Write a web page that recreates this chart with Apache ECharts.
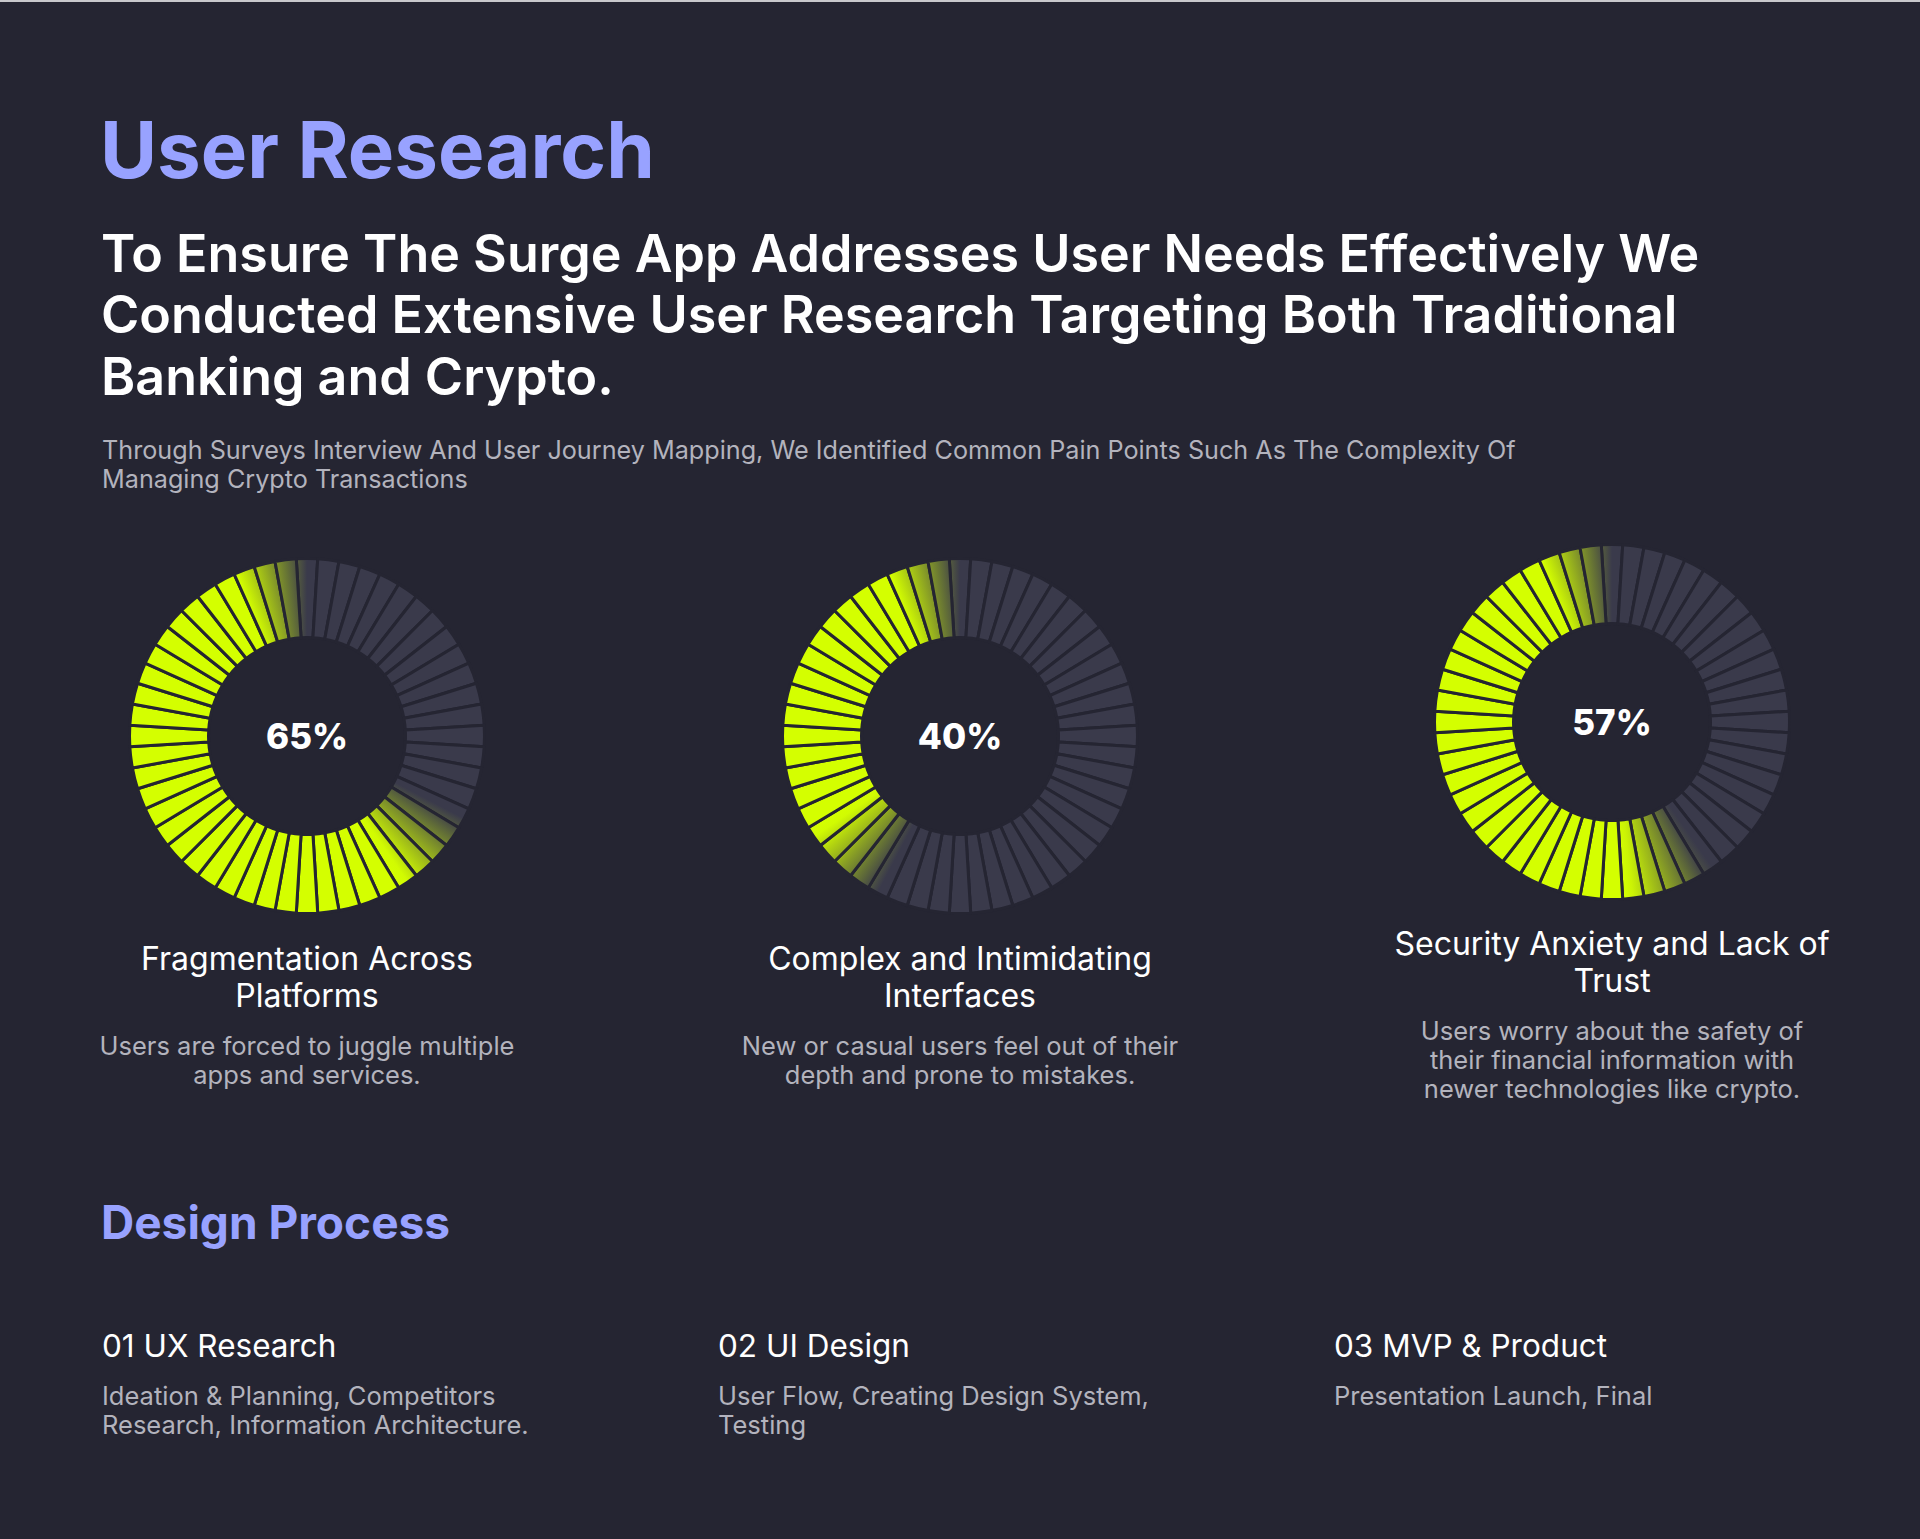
<!DOCTYPE html>
<html>
<head>
<meta charset="utf-8">
<title>User Research</title>
<script src="https://cdn.jsdelivr.net/npm/echarts@6/dist/echarts.min.js"></script>
<style>
    html, body { margin: 0; padding: 0; background: #252532; }
    #chart { width: 1920px; height: 1539px; }
</style>
</head>
<body>
<div id="chart"></div>
<script>
(function () {
    // ---- data ----
    var headline = 'User Research';
    var introLines = [
        'To Ensure The Surge App Addresses User Needs Effectively We',
        'Conducted Extensive User Research Targeting Both Traditional',
        'Banking and Crypto.'
    ];
    var summaryLines = [
        'Through Surveys Interview And User Journey Mapping, We Identified Common Pain Points Such As The Complexity Of',
        'Managing Crypto Transactions'
    ];
    var percents = [65, 40, 57];
    var painTitles = [
        ['Fragmentation Across', 'Platforms'],
        ['Complex and Intimidating', 'Interfaces'],
        ['Security Anxiety and Lack of', 'Trust']
    ];
    var painTexts = [
        ['Users are forced to juggle multiple', 'apps and services.'],
        ['New or casual users feel out of their', 'depth and prone to mistakes.'],
        ['Users worry about the safety of', 'their financial information with', 'newer technologies like crypto.']
    ];
    var processTitle = 'Design Process';
    var steps = ['01 UX Research', '02 UI Design', '03 MVP & Product'];
    var stepTexts = [
        ['Ideation & Planning, Competitors', 'Research, Information Architecture.'],
        ['User Flow, Creating Design System,', 'Testing'],
        ['Presentation Launch, Final']
    ];
    var segmentCount = 52;

    // ---- layout / style ----
    var BG = '#252532';
    var PURPLE = '#98a2ff';
    var GREY_TEXT = '#b3b3bd';
    var FONT = 'Inter, "Noto Sans", sans-serif';
    var ringX = [307, 960, 1612];
    var ringY = [736, 736, 722];
    var titleY = [958, 958, 943];
    var textY = [1045, 1045, 1030];
    var stepX = [102, 718, 1334];
    var R_IN = 98.5, R_OUT = 177.5;
    var STEP = 360 / segmentCount;

    function mix(t) {
        // track grey -> lime
        var r = Math.round(58 + (212 - 58) * t);
        var g = Math.round(58 + (255 - 58) * t);
        var b = Math.round(75 + (0 - 75) * t);
        return 'rgb(' + r + ',' + g + ',' + b + ')';
    }

    function fillLevel(a, p) {
        var s = 360 * (1 - p / 100);
        if (a <= 0) a += 360;
        var head = Math.min(1, Math.max(0, (360 - a) / 24));
        var tail = Math.min(1, Math.max(0, (a - (s - 8)) / 28));
        return Math.min(head, tail);
    }

    function segColor(k, i) {
        var p = percents[k];
        var a0 = i * STEP - STEP / 2, a1 = a0 + STEP, am = a0 + STEP / 2;
        var t0 = fillLevel(a0, p), tm = fillLevel(am, p), t1 = fillLevel(a1, p);
        if (t0 === tm && tm === t1) return mix(tm);
        var rm = (R_IN + R_OUT) / 2, cx = ringX[k], cy = ringY[k], rad = Math.PI / 180;
        return {
            type: 'linear', global: true,
            x: cx + rm * Math.sin(a0 * rad), y: cy - rm * Math.cos(a0 * rad),
            x2: cx + rm * Math.sin(a1 * rad), y2: cy - rm * Math.cos(a1 * rad),
            colorStops: [
                { offset: 0, color: mix(t0) },
                { offset: 0.5, color: mix(tm) },
                { offset: 1, color: mix(t1) }
            ]
        };
    }

    function buildRing(k) {
        var data = [];
        for (var i = 0; i < segmentCount; i++) {
            var item = { value: 1, itemStyle: { color: segColor(k, i) } };
            if (i === 0) {
                item.label = {
                    show: true, position: 'center',
                    formatter: percents[k] + '%',
                    color: '#ffffff', fontSize: 35, fontWeight: 800, fontFamily: FONT
                };
            }
            data.push(item);
        }
        return {
            type: 'pie',
            center: [ringX[k], ringY[k]],
            radius: [R_IN, R_OUT],
            startAngle: 90 + STEP / 2,
            clockwise: true,
            silent: true,
            animation: false,
            avoidLabelOverlap: false,
            label: { show: false },
            labelLine: { show: false },
            itemStyle: { borderColor: BG, borderWidth: 3 },
            data: data
        };
    }

    function text(str, x, y, size, weight, color, align) {
        return {
            type: 'text', x: x, y: y, silent: true,
            style: {
                text: str, fill: color,
                fontSize: size, fontWeight: weight, fontFamily: FONT,
                align: align || 'left', textAlign: align || 'left',
                verticalAlign: 'middle', textVerticalAlign: 'middle'
            }
        };
    }

    var graphics = [
        { type: 'rect', shape: { x: 0, y: 0, width: 1920, height: 2 }, style: { fill: '#c8c8cc' }, silent: true },
        text(headline, 100, 149, 78, 700, PURPLE)
    ];
    introLines.forEach(function (line, i) {
        graphics.push(text(line, 101, 253 + i * 61.5, 52, 600, '#ffffff'));
    });
    summaryLines.forEach(function (line, i) {
        graphics.push(text(line, 102, 450 + i * 29, 25.2, 400, GREY_TEXT));
    });
    painTitles.forEach(function (lines, k) {
        lines.forEach(function (line, i) {
            graphics.push(text(line, ringX[k], titleY[k] + i * 37, 32, 400, '#ffffff', 'center'));
        });
    });
    painTexts.forEach(function (lines, k) {
        lines.forEach(function (line, i) {
            graphics.push(text(line, ringX[k], textY[k] + i * 29, 25.5, 400, GREY_TEXT, 'center'));
        });
    });
    graphics.push(text(processTitle, 101, 1222, 46, 700, PURPLE));
    steps.forEach(function (s, k) {
        graphics.push(text(s, stepX[k], 1345, 31.5, 400, '#ffffff'));
    });
    stepTexts.forEach(function (lines, k) {
        lines.forEach(function (line, i) {
            graphics.push(text(line, stepX[k], 1395 + i * 29, 25.5, 400, GREY_TEXT));
        });
    });

    var chart = echarts.init(document.getElementById('chart'), null, { renderer: 'svg' });
    chart.setOption({
        backgroundColor: BG,
        animation: false,
        series: [buildRing(0), buildRing(1), buildRing(2)],
        graphic: graphics
    });
})();
</script>
</body>
</html>
